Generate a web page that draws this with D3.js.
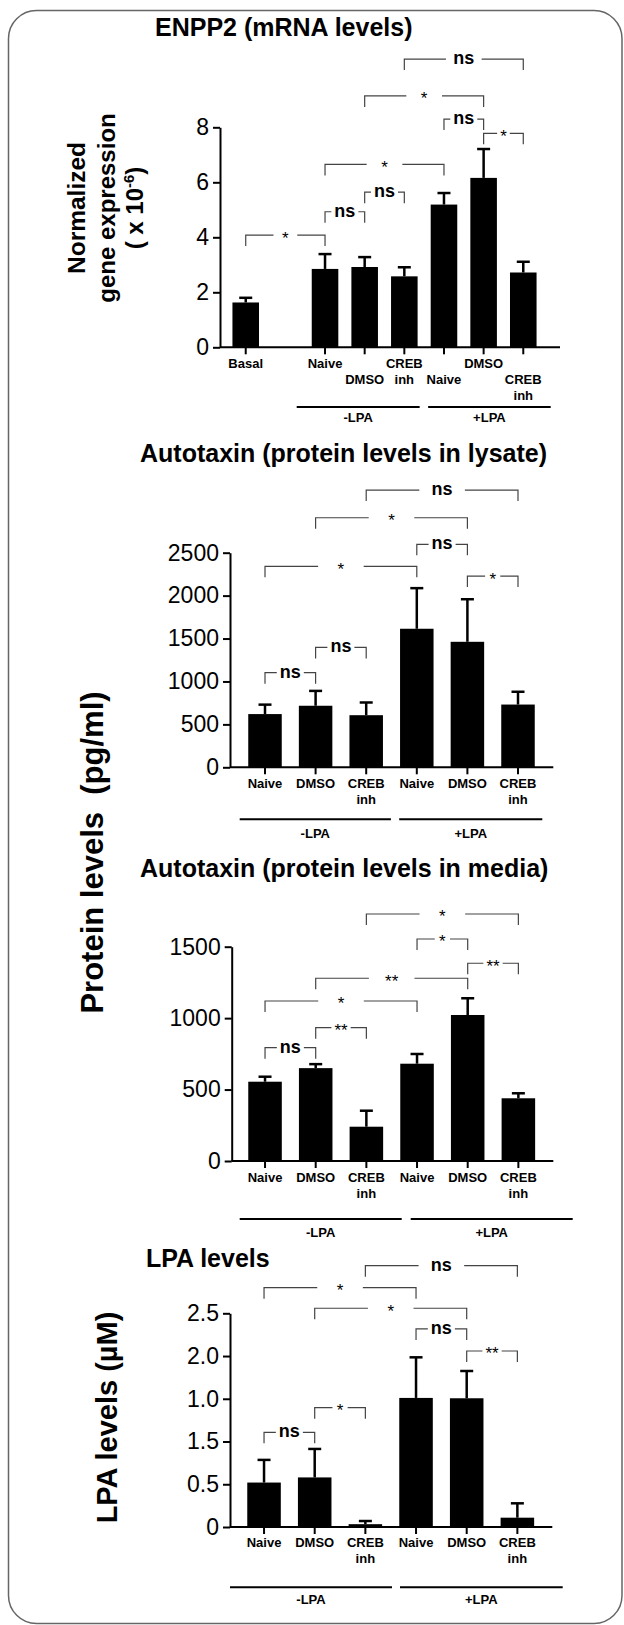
<!DOCTYPE html>
<html>
<head>
<meta charset="utf-8">
<script src="https://cdn.jsdelivr.net/npm/d3@7"></script>
<style>
  body { margin: 0; background: #fff; }
  svg { display: block; font-family: "Liberation Sans", Arial, Helvetica, sans-serif; }
</style>
</head>
<body>
<svg id="fig" width="624" height="1625"></svg>
<script>
var svg = d3.select("#fig");

// shared categories for the treatment groups
var groupNames = ["-LPA", "+LPA"];
var treatKeys = ["mNaive", "mDMSO", "mCREB", "pNaive", "pDMSO", "pCREB"];
var treatLabels = [["Naive"], ["DMSO"], ["CREB", "inh"], ["Naive"], ["DMSO"], ["CREB", "inh"]];

// ENPP2 mRNA (basal bar, an empty slot, then the six treatments)
var enppKeys = ["Basal", "gap"].concat(treatKeys);
var enppLabels = [["Basal"], []].concat(treatLabels);
var enppLabelRow = [0, 0, 0, 1, 0, 1, 0, 1];
var enppMean = [1.63, null, 2.85, 2.92, 2.58, 5.19, 6.16, 2.72];
var enppSem = [0.17, null, 0.54, 0.36, 0.33, 0.42, 1.05, 0.39];
var enppTicks = [0, 2, 4, 6, 8];
var enppTickLabels = ["0", "2", "4", "6", "8"];
// [from, to, level, label]
var enppSig = [[0, 2, 4.08, "*"], [2, 3, 4.93, "ns"], [3, 4, 5.64, "ns"], [2, 5, 6.65, "*"],
  [5, 6, 8.30, "ns"], [6, 7, 7.78, "*"], [3, 6, 9.14, "*"], [4, 7, 10.48, "ns"]];

// autotaxin in lysate (pg/ml)
var lysateMean = [620, 717, 607, 1614, 1462, 731];
var lysateSem = [110, 173, 148, 473, 496, 149];
var lysateTicks = [0, 500, 1000, 1500, 2000, 2500];
var lysateTickLabels = ["0", "500", "1000", "1500", "2000", "2500"];
var lysateSig = [[0, 1, 1102, "ns"], [1, 2, 1397, "ns"], [0, 3, 2341, "*"], [3, 4, 2597, "ns"],
  [4, 5, 2228, "*"], [1, 4, 2907, "*"], [2, 5, 3229, "ns"]];

// autotaxin in media (pg/ml)
var mediaMean = [555, 650, 240, 681, 1022, 439];
var mediaSem = [35, 28, 112, 68, 117, 35];
var mediaTicks = [0, 500, 1000, 1500];
var mediaTickLabels = ["0", "500", "1000", "1500"];
var mediaSig = [[0, 1, 793, "ns"], [1, 2, 933, "**"], [0, 3, 1120, "*"], [1, 4, 1279, "**"],
  [4, 5, 1384, "**"], [3, 4, 1554, "*"], [2, 5, 1729, "*"]];

// LPA levels (uM) - tick labels as printed in the figure
var lpaMean = [0.52, 0.58, 0.033, 1.51, 1.506, 0.109];
var lpaSem = [0.265, 0.333, 0.037, 0.475, 0.319, 0.168];
var lpaTicks = [0, 0.5, 1.0, 1.5, 2.0, 2.5];
var lpaTickLabels = ["0", "0.5", "1.5", "1.0", "2.0", "2.5"];
var lpaSig = [[0, 1, 1.108, "ns"], [1, 2, 1.396, "*"], [4, 5, 2.059, "**"], [3, 4, 2.317, "ns"],
  [1, 4, 2.559, "*"], [0, 3, 2.80, "*"], [2, 5, 3.057, "ns"]];

// outer frame
svg.append("rect")
  .attr("x", 8.5).attr("y", 10.5)
  .attr("width", 613.5).attr("height", 1613)
  .attr("rx", 28).attr("ry", 28)
  .attr("fill", "none")
  .attr("stroke", "#666")
  .attr("stroke-width", 1.5);

function drawPanel(p) {
  var g = svg.append("g");

  var x = d3.scaleBand()
    .domain(p.keys)
    .range(p.xRange)
    .paddingInner(p.pad)
    .paddingOuter(p.pad / 2);
  var y = d3.scaleLinear()
    .domain([0, p.ticks[p.ticks.length - 1]])
    .range([p.axisY, p.yTop]);
  var cx = function (i) { return x(p.keys[i]) + x.bandwidth() / 2; };

  // title
  g.append("text")
    .attr("x", p.titleX).attr("y", p.titleY)
    .attr("font-size", 25).attr("font-weight", "bold")
    .text(p.title);

  // bars
  var rows = p.keys.map(function (k, i) { return { key: k, i: i, mean: p.mean[i], sem: p.sem[i] }; })
    .filter(function (d) { return d.mean != null; });

  g.selectAll("rect.bar").data(rows).enter().append("rect")
    .attr("class", "bar")
    .attr("x", function (d) { return x(d.key); })
    .attr("width", x.bandwidth())
    .attr("y", function (d) { return y(d.mean); })
    .attr("height", function (d) { return p.axisY - y(d.mean); })
    .attr("fill", "#000");

  // error bars (upper only)
  var err = g.selectAll("g.err").data(rows).enter().append("g")
    .attr("stroke", "#000").attr("stroke-width", 2.5);
  err.append("line")
    .attr("x1", function (d) { return cx(d.i); })
    .attr("x2", function (d) { return cx(d.i); })
    .attr("y1", function (d) { return y(d.mean); })
    .attr("y2", function (d) { return y(d.mean + d.sem); });
  err.append("line")
    .attr("x1", function (d) { return cx(d.i) - 6.5; })
    .attr("x2", function (d) { return cx(d.i) + 6.5; })
    .attr("y1", function (d) { return y(d.mean + d.sem); })
    .attr("y2", function (d) { return y(d.mean + d.sem); });

  // y axis
  var yAxis = g.append("g")
    .attr("transform", "translate(" + p.axisX + ",0)")
    .call(d3.axisLeft(y)
      .tickValues(p.ticks)
      .tickFormat(function (d, i) { return p.tickLabels[i]; })
      .tickSize(7).tickPadding(4).tickSizeOuter(0));
  yAxis.attr("font-size", 23).attr("font-family", null);
  yAxis.selectAll("path, line").attr("stroke-width", 2);

  // x axis
  var xAxis = g.append("g")
    .attr("transform", "translate(0," + p.axisY + ")")
    .call(d3.axisBottom(x)
      .tickValues(p.keys.filter(function (k) { return k !== "gap"; }))
      .tickSize(7).tickFormat(""));
  xAxis.select(".domain").attr("d", "M" + p.axisX + ",0H" + p.xEnd);
  xAxis.selectAll("text").remove();
  xAxis.selectAll("path, line").attr("stroke-width", 2);

  // category labels
  p.keys.forEach(function (k, i) {
    p.labels[i].forEach(function (line, j) {
      g.append("text")
        .attr("x", cx(i))
        .attr("y", p.axisY + p.labelBase + (p.labelRow[i] + j) * 16)
        .attr("text-anchor", "middle")
        .attr("font-size", 13).attr("font-weight", "bold")
        .text(line);
    });
  });

  // -LPA / +LPA group lines
  p.groupSpans.forEach(function (s, gi) {
    var step = x.step();
    var x0 = cx(s[0]) - step / 2 + p.groupOffsets[gi * 2];
    var x1 = cx(s[1]) + step / 2 + p.groupOffsets[gi * 2 + 1];
    g.append("line")
      .attr("x1", x0).attr("x2", x1)
      .attr("y1", p.groupY).attr("y2", p.groupY)
      .attr("stroke", "#000").attr("stroke-width", 2);
    g.append("text")
      .attr("x", (x0 + x1) / 2)
      .attr("y", p.groupY + p.groupLabelDy)
      .attr("text-anchor", "middle")
      .attr("font-size", 13).attr("font-weight", "bold")
      .text(groupNames[gi]);
  });

  // significance brackets
  var leg = 11;
  p.sig.forEach(function (s) {
    var xa = cx(s[0]), xb = cx(s[1]), yl = y(s[2]);
    var mid = (xa + xb) / 2;
    var isNs = s[3] === "ns";
    var t = g.append("text")
      .attr("x", mid)
      .attr("y", yl + (isNs ? 5 : 8.5))
      .attr("text-anchor", "middle")
      .attr("font-size", isNs ? 18 : 17)
      .attr("font-weight", isNs ? "bold" : "normal")
      .text(s[3]);
    var tw = t.node().getComputedTextLength();
    var gap = Math.max(tw + 6, (xb - xa) * 0.3);
    g.append("path")
      .attr("d", "M" + xa + "," + (yl + leg) + "V" + yl + "H" + (mid - gap / 2) +
        "M" + (mid + gap / 2) + "," + yl + "H" + xb + "V" + (yl + leg))
      .attr("fill", "none")
      .attr("stroke", "#444")
      .attr("stroke-width", 1.2);
  });
}

drawPanel({
  title: "ENPP2 (mRNA levels)", titleX: 155, titleY: 36,
  keys: enppKeys, labels: enppLabels, labelRow: enppLabelRow,
  mean: enppMean, sem: enppSem, ticks: enppTicks, tickLabels: enppTickLabels, sig: enppSig,
  xRange: [225.9, 543.1], pad: 0.33, axisY: 347.3, yTop: 127.3, axisX: 220, xEnd: 560,
  labelBase: 21, groupSpans: [[2, 4], [5, 7]], groupY: 407, groupLabelDy: 14.5,
  groupOffsets: [-8.5, -4.5, 4, 7.6]
});

drawPanel({
  title: "Autotaxin (protein levels in lysate)", titleX: 140, titleY: 461.5,
  keys: treatKeys, labels: treatLabels, labelRow: [0, 0, 0, 0, 0, 0],
  mean: lysateMean, sem: lysateSem, ticks: lysateTicks, tickLabels: lysateTickLabels, sig: lysateSig,
  xRange: [239.7, 543.3], pad: 0.338, axisY: 767.3, yTop: 552.7, axisX: 230, xEnd: 553.3,
  labelBase: 20.5, groupSpans: [[0, 2], [3, 5]], groupY: 819.3, groupLabelDy: 19,
  groupOffsets: [0, -0.6, 7.7, -1]
});

drawPanel({
  title: "Autotaxin (protein levels in media)", titleX: 140, titleY: 876.7,
  keys: treatKeys, labels: treatLabels, labelRow: [0, 0, 0, 0, 0, 0],
  mean: mediaMean, sem: mediaSem, ticks: mediaTicks, tickLabels: mediaTickLabels, sig: mediaSig,
  xRange: [239.7, 543.7], pad: 0.338, axisY: 1161, yTop: 946.7, axisX: 231.7, xEnd: 553.3,
  labelBase: 21, groupSpans: [[0, 2], [3, 5]], groupY: 1219, groupLabelDy: 17.7,
  groupOffsets: [0, 10, 19, 29]
});

drawPanel({
  title: "LPA levels", titleX: 146, titleY: 1266.7,
  keys: treatKeys, labels: treatLabels, labelRow: [0, 0, 0, 0, 0, 0],
  mean: lpaMean, sem: lpaSem, ticks: lpaTicks, tickLabels: lpaTickLabels, sig: lpaSig,
  xRange: [238.7, 542.7], pad: 0.338, axisY: 1527, yTop: 1313.3, axisX: 230, xEnd: 552.3,
  labelBase: 20, groupSpans: [[0, 2], [3, 5]], groupY: 1587.3, groupLabelDy: 16.7,
  groupOffsets: [-8.7, 1.3, 9.3, 20]
});

// y axis titles
function yTitle(text, bx, cy, size) {
  return svg.append("text")
    .attr("transform", "translate(" + bx + "," + cy + ") rotate(-90)")
    .attr("text-anchor", "middle")
    .attr("font-size", size).attr("font-weight", "bold")
    .style("white-space", "pre")
    .text(text);
}
yTitle("Normalized", 85, 208, 24.5);
yTitle("gene expression", 115, 208, 24);
var t3 = yTitle("( x 10", 143, 208, 24);
t3.append("tspan").attr("font-size", 15).attr("dy", -9).text("-6");
t3.append("tspan").attr("dy", 9).text(")");
yTitle("Protein levels  (pg/ml)", 103.3, 852.5, 31);
yTitle("LPA levels (\u00b5M)", 117.3, 1417.5, 29);
</script>
</body>
</html>
